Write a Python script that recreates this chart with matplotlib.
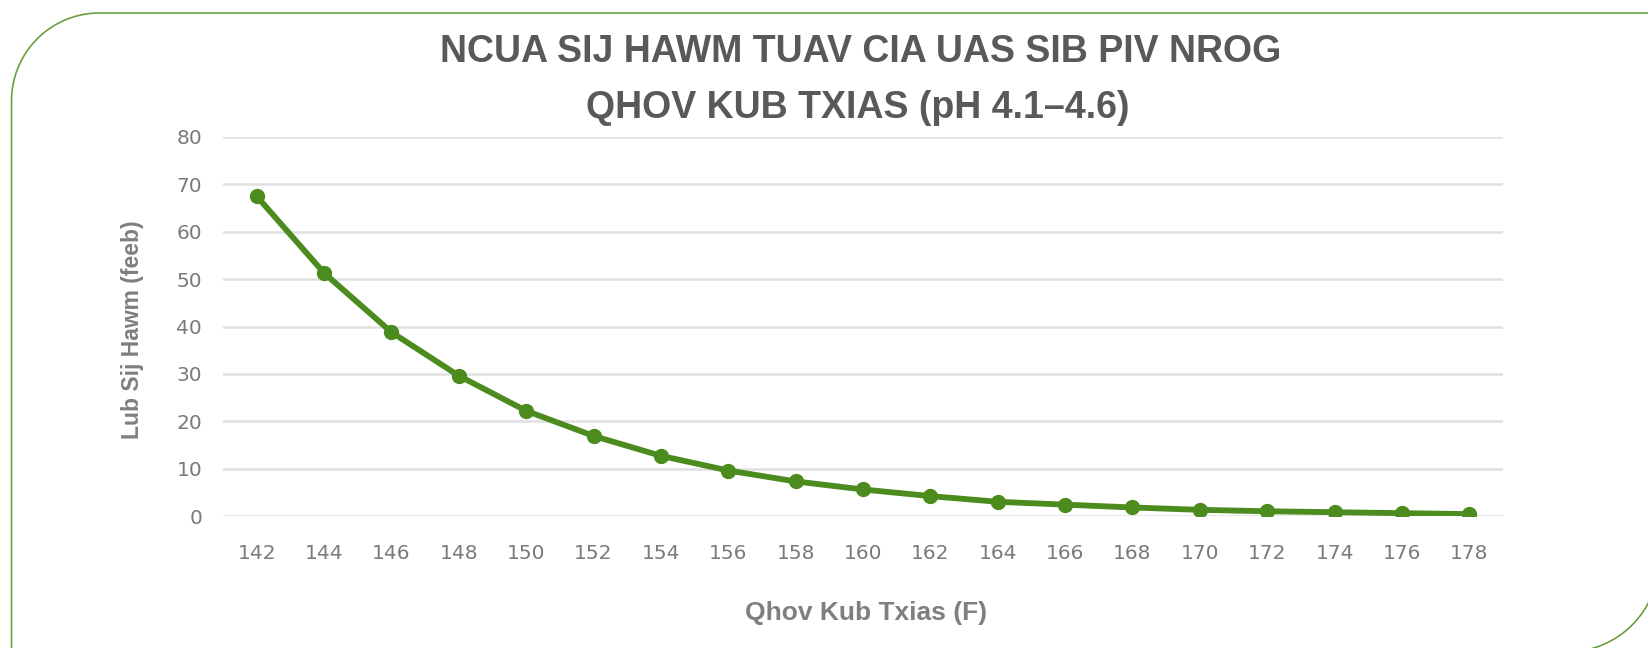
import numpy as np
import matplotlib
matplotlib.use("Agg")
import matplotlib.pyplot as plt
from matplotlib.path import Path
from matplotlib.patches import PathPatch

# ---- data ----
temps = [142, 144, 146, 148, 150, 152, 154, 156, 158, 160,
         162, 164, 166, 168, 170, 172, 174, 176, 178]
minutes = [67.5, 51.3, 38.8, 29.6, 22.2, 16.9, 12.7, 9.6, 7.3, 5.6,
           4.2, 3.0, 2.4, 1.8, 1.3, 1.0, 0.8, 0.6, 0.4]
y_ticks = [0, 10, 20, 30, 40, 50, 60, 70, 80]
title_lines = ["NCUA SIJ HAWM TUAV CIA UAS SIB PIV NROG",
               "QHOV KUB TXIAS (pH 4.1\u20134.6)"]
x_label = "Qhov Kub Txias (F)"
y_label = "Lub Sij Hawm (feeb)"

W, H = 1648, 648
DPI = 100
fig = plt.figure(figsize=(W / DPI, H / DPI), dpi=DPI)
fig.patch.set_facecolor("white")

def fx(px):
    return px / W

def fy(py):
    return 1 - py / H

# ---- decorative frame (top-left and bottom-right rounded) ----
r1 = 88
left, top = 11.5, 13.0
right, bottom = 1659.0, 652.0
r2 = 92
pts = []
pts.append((left, H + 5))
t = np.linspace(np.pi, 1.5 * np.pi, 40)
cx, cy = left + r1, top + r1
for a in t:
    pts.append((cx + r1 * np.cos(a), cy + r1 * np.sin(a)))
pts.append((right, top))
t2 = np.linspace(0.0, 0.5 * np.pi, 40)
cx2, cy2 = right - r2, bottom - r2
for a in t2:
    pts.append((cx2 + r2 * np.cos(a), cy2 + r2 * np.sin(a)))
pts.append((-10, bottom))
pts_fig = [(fx(x), fy(y)) for x, y in pts]
frame = PathPatch(Path(pts_fig), transform=fig.transFigure, fill=False,
                  edgecolor="#6A9E3F", linewidth=1.2, clip_on=False)
fig.patches.append(frame)

# ---- axes ----
ax_l, ax_r, ax_t, ax_b = 223, 1503, 137, 516
ax = fig.add_axes([fx(ax_l), fy(ax_b), (ax_r - ax_l) / W, (ax_b - ax_t) / H])
ax.set_facecolor("white")
for s in ax.spines.values():
    s.set_visible(False)

ax.set_xlim(temps[0] - 1, temps[-1] + 1)
ax.set_ylim(y_ticks[0], y_ticks[-1])
ax.set_yticks(y_ticks)
ax.set_xticks(temps)
ax.grid(axis="y", color="#E0E0E0", linewidth=1.8)
ax.grid(axis="x", visible=False)
ax.set_axisbelow(True)
ax.tick_params(axis="both", length=0, labelsize=14.5, labelcolor="#7A7A7A")
ax.tick_params(axis="x", pad=20)
ax.tick_params(axis="y", pad=15)
for lab in ax.get_xticklabels() + ax.get_yticklabels():
    lab.set_fontfamily("DejaVu Sans")

ax.plot(temps, minutes, color="#4C8C1E", linewidth=4.2, marker="o",
        markersize=10, markerfacecolor="#4C8C1E", markeredgecolor="#4C8C1E",
        solid_capstyle="round", zorder=3)

# ---- texts ----
fig.text(fx(861), fy(62), title_lines[0], ha="center", va="baseline",
         fontsize=27, fontweight="bold", color="#595959",
         family="Liberation Sans")
fig.text(fx(858), fy(118), title_lines[1], ha="center", va="baseline",
         fontsize=27, fontweight="bold", color="#595959",
         family="Liberation Sans")
fig.text(fx(866), fy(613), x_label, ha="center", va="center",
         fontsize=19, fontweight="bold", color="#7F7F7F",
         family="Liberation Sans")
fig.text(fx(133), fy(330), y_label, ha="center", va="center", rotation=90,
         fontsize=16.5, fontweight="bold", color="#7F7F7F",
         family="Liberation Sans")

fig.savefig("out.png", dpi=DPI, facecolor="white")
